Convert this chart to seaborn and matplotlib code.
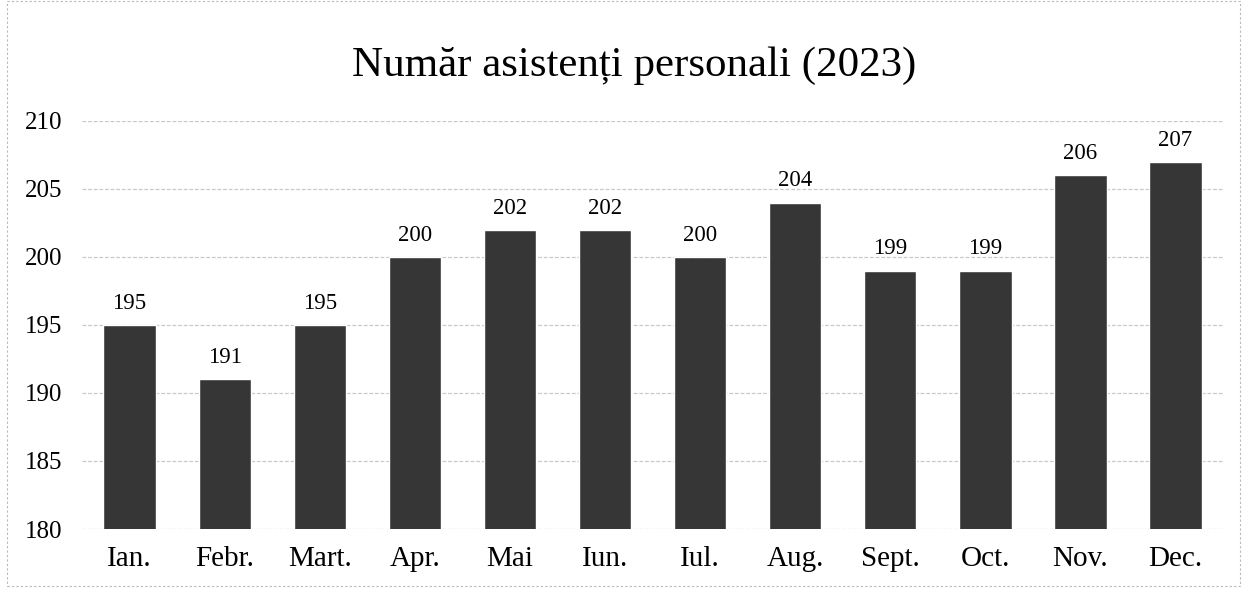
import matplotlib
matplotlib.use("Agg")
import matplotlib.pyplot as plt
import seaborn as sns
import pandas as pd

months = ["Ian.", "Febr.", "Mart.", "Apr.", "Mai", "Iun.", "Iul.", "Aug.", "Sept.", "Oct.", "Nov.", "Dec."]
values = [195, 191, 195, 200, 202, 202, 200, 204, 199, 199, 206, 207]
yticks = [180, 185, 190, 195, 200, 205, 210]
title = "Număr asistenți personali (2023)"

sns.set_theme(style="white")
plt.rcParams["font.family"] = ["Liberation Serif", "DejaVu Serif"]

df = pd.DataFrame({"luna": months, "valoare": values})

fig = plt.figure(figsize=(12.45, 5.91), dpi=100)
ax = fig.add_axes([0.0659, 0.1049, 0.9165, 0.6904])

sns.barplot(data=df, x="luna", y="valoare", color="#363636", width=0.55,
            saturation=1, ax=ax, zorder=3)

ax.set_ylim(180, 210)
ax.set_yticks(yticks)
ax.set_xlim(-0.5, len(months) - 0.5)
ax.grid(axis="y", color="#c8c8c8", linewidth=0.9, linestyle=(0, (3, 1.5)), zorder=0)
ax.grid(axis="x", visible=False)
for s in ax.spines.values():
    s.set_visible(False)
ax.tick_params(axis="both", length=0, colors="black")
ax.tick_params(axis="x", pad=12, labelsize=21)
ax.tick_params(axis="y", pad=14, labelsize=18)
ax.set_xlabel("")
ax.set_ylabel("")

for p, v in zip(ax.patches, values):
    ax.annotate(str(v), (p.get_x() + p.get_width() / 2, p.get_height() + p.get_y()),
                xytext=(0, 8), textcoords="offset points", ha="center", va="bottom",
                fontsize=16.5, color="black")

fig.text(0.509, 0.889, title, ha="center", va="center", fontsize=31, color="black")

# faint border of the chart frame
fig.patches.append(plt.Rectangle((0.006, 0.008), 0.99, 0.99, transform=fig.transFigure,
                                 fill=False, edgecolor="#b8b8b8", linewidth=0.8,
                                 linestyle=(0, (2, 2))))

fig.savefig("out.png", dpi=100, facecolor="white")
